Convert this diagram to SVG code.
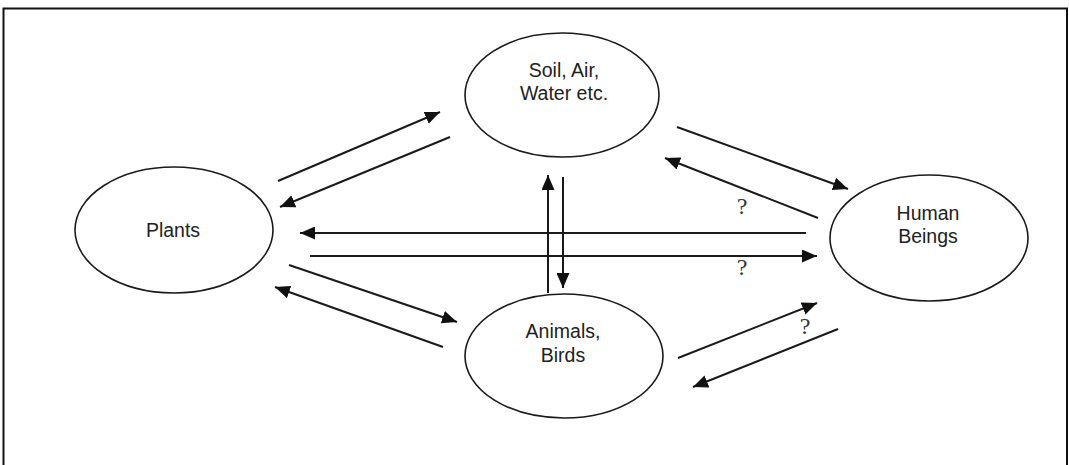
<svg xmlns="http://www.w3.org/2000/svg" width="1069" height="465" viewBox="0 0 1069 465">
  <style>
    .node { fill: #ffffff; stroke: #1a1a1a; stroke-width: 1.6; }
    .label { font-family: "Liberation Sans", Arial, sans-serif; font-size: 19.5px; fill: #222222; text-anchor: middle; }
    .q { font-family: "Liberation Serif", "Times New Roman", serif; font-size: 24px; fill: #333333; text-anchor: middle; }
    .link { stroke: #1a1a1a; stroke-width: 2; fill: none; marker-end: url(#head); }
  </style>
  <defs>
    <marker id="head" markerUnits="userSpaceOnUse" markerWidth="16" markerHeight="13" refX="15" refY="6.5" orient="auto">
      <path d="M0,0 L15,6.5 L0,13 z" fill="#111111"/>
    </marker>
  </defs>

  <rect x="0" y="0" width="1069" height="465" fill="#ffffff"/>
  <!-- frame -->
  <path d="M3.5,470 L3.5,8.5 L1067,8.5 L1067,470" fill="none" stroke="#111111" stroke-width="2"/>

  <g id="soil">
    <ellipse class="node" cx="562" cy="95" rx="97" ry="62"/>
    <text class="label" x="564" y="77">Soil, Air,</text>
    <text class="label" x="564" y="100">Water etc.</text>
  </g>

  <g id="plants">
    <ellipse class="node" cx="174" cy="230" rx="99" ry="63"/>
    <text class="label" x="173" y="237">Plants</text>
  </g>

  <g id="human">
    <ellipse class="node" cx="929" cy="238" rx="99" ry="63"/>
    <text class="label" x="928" y="220">Human</text>
    <text class="label" x="928" y="243">Beings</text>
  </g>

  <g id="animals">
    <ellipse class="node" cx="564" cy="356" rx="99" ry="62"/>
    <text class="label" x="563" y="338">Animals,</text>
    <text class="label" x="563" y="362">Birds</text>
  </g>

  <g id="connectors">
    <line class="link" x1="278" y1="181" x2="440" y2="112"/>
    <line class="link" x1="450" y1="137" x2="280" y2="207"/>
    <line class="link" x1="677" y1="127" x2="848" y2="189"/>
    <line class="link" x1="818" y1="218" x2="665" y2="158"/>
    <line class="link" x1="806" y1="233" x2="300" y2="233"/>
    <line class="link" x1="310" y1="256" x2="817" y2="256"/>
    <line class="link" x1="289" y1="265" x2="457" y2="322"/>
    <line class="link" x1="443" y1="347" x2="275" y2="287"/>
    <line class="link" x1="678" y1="358" x2="817" y2="303"/>
    <line class="link" x1="838" y1="329" x2="693" y2="387"/>
    <line class="link" x1="548" y1="293" x2="548" y2="175"/>
    <line class="link" x1="563" y1="177" x2="563" y2="288"/>
    <text class="q" x="742" y="214">?</text>
    <text class="q" x="742" y="275">?</text>
    <text class="q" x="805" y="334">?</text>
  </g>
</svg>
